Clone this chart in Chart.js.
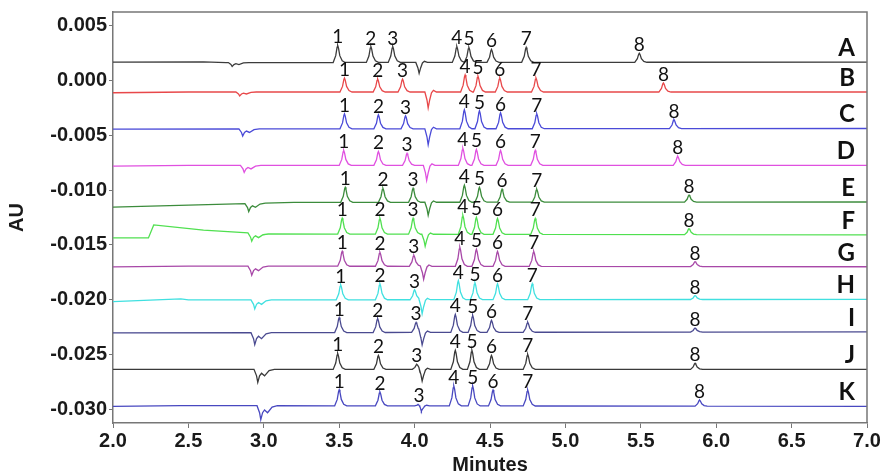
<!DOCTYPE html>
<html><head><meta charset="utf-8">
<script src="https://cdn.jsdelivr.net/npm/chart.js@4/dist/chart.umd.min.js"></script>
<style>html,body{margin:0;padding:0;background:#fff}</style>
</head><body>
<canvas id="c" width="882" height="475"></canvas>
<script>
// ---- data ----
const traceNames = ['A','B','C','D','E','F','G','H','I','J','K'];
const xTickValues = [2.0,2.5,3.0,3.5,4.0,4.5,5.0,5.5,6.0,6.5,7.0];
const yTickValues = [0.005,0.000,-0.005,-0.010,-0.015,-0.020,-0.025,-0.030];

// baseline (time, AU) knots per trace
const baselineKnots = [
  [[2.0,0.00164],[2.6,0.00166],[2.75,0.00160],[7.0,0.00164]],
  [[2.0,-0.00115],[2.5,-0.00108],[7.0,-0.00108]],
  [[2.0,-0.00445],[7.0,-0.00440]],
  [[2.0,-0.00782],[2.5,-0.00776],[7.0,-0.00775]],
  [[2.0,-0.01155],[3.2,-0.01112],[7.0,-0.01109]],
  [[2.0,-0.01436],[2.235,-0.01436],[2.27,-0.01318],[2.6,-0.01365],[3.0,-0.01400],[7.0,-0.01409]],
  [[2.0,-0.01700],[2.5,-0.01692],[7.0,-0.01698]],
  [[2.0,-0.02015],[2.45,-0.01990],[2.5,-0.02000],[7.0,-0.01995]],
  [[2.0,-0.02300],[7.0,-0.02290]],
  [[2.0,-0.02632],[7.0,-0.02632]],
  [[2.0,-0.02968],[2.45,-0.02962],[7.0,-0.02968]]
];

// retention times (min) of labelled peaks 1..8
const peakTimes = [
  [3.49,3.71,3.855,4.28,4.36,4.51,4.74,5.49],
  [3.535,3.755,3.92,4.335,4.42,4.565,4.805,5.65],
  [3.535,3.76,3.94,4.33,4.43,4.57,4.81,5.72],
  [3.53,3.76,3.95,4.32,4.41,4.57,4.80,5.745],
  [3.54,3.79,3.99,4.33,4.43,4.58,4.81,5.82],
  [3.52,3.77,3.99,4.32,4.41,4.55,4.80,5.82],
  [3.52,3.77,3.995,4.30,4.41,4.55,4.79,5.86],
  [3.51,3.77,4.00,4.29,4.40,4.55,4.78,5.86],
  [3.50,3.755,4.01,4.27,4.385,4.51,4.75,5.86],
  [3.49,3.76,4.015,4.27,4.38,4.51,4.75,5.86],
  [3.50,3.77,4.03,4.26,4.385,4.52,4.75,5.89]
];
// peak heights above baseline (AU)
const peakHeights = [
  [0.00155,0.00145,0.00145,0.00145,0.00136,0.00118,0.00136,0.00082],
  [0.00127,0.00118,0.00118,0.00155,0.00145,0.00127,0.00127,0.00082],
  [0.00136,0.00127,0.00118,0.00173,0.00164,0.00145,0.00136,0.00082],
  [0.00136,0.00127,0.00109,0.00155,0.00145,0.00136,0.00136,0.00082],
  [0.00136,0.00127,0.00127,0.00155,0.00136,0.00118,0.00118,0.00064],
  [0.00145,0.00145,0.00145,0.00173,0.00155,0.00145,0.00145,0.00055],
  [0.00136,0.00127,0.00100,0.00173,0.00155,0.00136,0.00136,0.00045],
  [0.00136,0.00145,0.00091,0.00173,0.00155,0.00145,0.00145,0.00036],
  [0.00136,0.00127,0.00091,0.00164,0.00155,0.00109,0.00091,0.00036],
  [0.00145,0.00127,0.00045,0.00173,0.00173,0.00127,0.00136,0.00055],
  [0.00145,0.00127,0.00018,0.00182,0.00182,0.00145,0.00145,0.00055]
];
// negative system peaks
const earlyDipTimes  = [2.79,2.84,2.86,2.87,2.90,2.92,2.92,2.94,2.94,2.96,2.98];
const earlyDipDepths = [0.00036,0.00036,0.00064,0.00064,0.00073,0.00073,0.00082,0.00082,0.00109,0.00118,0.00127];
const mainDipTimes   = [4.03,4.09,4.09,4.08,4.09,4.07,4.06,4.05,4.05,4.05,4.045];
const mainDipDepths  = [0.00100,0.00145,0.00145,0.00136,0.00118,0.00109,0.00118,0.00127,0.00118,0.00109,0.00055];

// ---- styles ----
const traceColors = ['#3c3c3c','#e8484a','#4a4ad8','#e050e0','#3c8c3c','#50e050','#a848a8','#40e0e0','#4a4a90','#3a3a3a','#4848c0'];
const peakShape  = [[-0.03,0],[-0.013,0.4],[-0.004,0.9],[0,1],[0.005,0.85],[0.014,0.4],[0.03,0.1],[0.05,0]];
const dipShape   = [[-0.022,0],[-0.008,-0.5],[0,-1],[0.01,-0.5],[0.022,-0.05],[0.035,0.1],[0.055,0]];
const earlyShape = [[-0.025,0],[-0.008,-0.5],[0,-1],[0.012,-0.5],[0.025,-0.3],[0.045,-0.5],[0.075,-0.1],[0.11,0]];

function lerpKnots(knots, t){
  if (t <= knots[0][0]) return knots[0][1];
  for (let k=1;k<knots.length;k++){
    if (t <= knots[k][0]){
      const [t0,v0]=knots[k-1],[t1,v1]=knots[k];
      return v0 + (v1-v0)*(t-t0)/(t1-t0);
    }
  }
  return knots[knots.length-1][1];
}
function shapeAt(shape, center, amp, t){
  const d = t-center;
  if (d <= shape[0][0] || d >= shape[shape.length-1][0]) return 0;
  for (let k=1;k<shape.length;k++){
    if (d <= shape[k][0]){
      const [a0,f0]=shape[k-1],[a1,f1]=shape[k];
      return amp*(f0 + (f1-f0)*(d-a0)/(a1-a0));
    }
  }
  return 0;
}
function baselineAt(i,t){ return lerpKnots(baselineKnots[i], t); }

function buildTrace(i){
  const feats = [];
  peakTimes[i].forEach((t,j)=>feats.push([peakShape,t,peakHeights[i][j]]));
  feats.push([earlyShape, earlyDipTimes[i], earlyDipDepths[i]]);
  feats.push([dipShape, mainDipTimes[i], mainDipDepths[i]]);
  const times = new Set(baselineKnots[i].map(k=>k[0]));
  feats.forEach(([s,c])=>s.forEach(p=>times.add(+(c+p[0]).toFixed(4))));
  const sorted = [...times].filter(t=>t>=2&&t<=7).sort((a,b)=>a-b);
  return sorted.map(t=>{
    let v = baselineAt(i,t);
    feats.forEach(([s,c,a])=>{ v += shapeAt(s,c,a,t); });
    return {x:t, y:v};
  });
}

const datasets = traceNames.map((n,i)=>({
  label:n, data:buildTrace(i), borderColor:traceColors[i], borderWidth:1.3,
  pointRadius:0, fill:false, tension:0
}));

const overlay = {
  id:'overlay',
  afterDatasetsDraw(chart){
    const {ctx, chartArea:a, scales:{x,y}} = chart;
    ctx.save();
    ctx.strokeStyle='#777'; ctx.lineWidth=1.5;
    ctx.beginPath(); ctx.moveTo(a.left,a.top); ctx.lineTo(a.right,a.top); ctx.lineTo(a.right,a.bottom); ctx.stroke();
    ctx.fillStyle='#111';
    traceNames.forEach((n,i)=>{
      ctx.font='19px Lato'; ctx.textAlign='center'; ctx.textBaseline='alphabetic';
      peakTimes[i].forEach((t,j)=>{
        const v = baselineAt(i,t)+peakHeights[i][j];
        ctx.fillText(String(j+1), x.getPixelForValue(t), y.getPixelForValue(v)-2);
      });
      ctx.font='bold 24px Lato'; ctx.textAlign='right';
      ctx.fillText(n, a.right-12, y.getPixelForValue(baselineAt(i,7.0))-6);
    });
    ctx.restore();
  }
};

const tickFont = {family:'Liberation Sans', size:20, weight:'bold'};
new Chart(document.getElementById('c'), {
  type:'line',
  data:{datasets},
  options:{
    responsive:false, animation:false, normalized:true,
    layout:{padding:{top:12,right:15,left:0,bottom:0}},
    plugins:{legend:{display:false}, tooltip:{enabled:false}},
    scales:{
      x:{type:'linear', min:2, max:7,
        afterBuildTicks:s=>{s.ticks=xTickValues.map(v=>({value:v}));},
        afterFit:s=>{s.height=52; s.paddingLeft=0; s.paddingRight=0;},
        ticks:{font:tickFont, color:'#1a1a1a', padding:1, maxRotation:0, autoSkip:false, callback:v=>Number(v).toFixed(1)},
        grid:{drawOnChartArea:false, drawTicks:true, tickLength:5, color:'#777'},
        border:{display:true, color:'#777', width:1.5},
        title:{display:true, text:'Minutes', color:'#1a1a1a', font:{family:'Liberation Sans', size:20, weight:'bold', lineHeight:1}, padding:0}
      },
      y:{type:'linear', min:-0.0312, max:0.0062,
        afterBuildTicks:s=>{s.ticks=yTickValues.map(v=>({value:v}));},
        afterFit:s=>{s.width=113; s.paddingTop=0; s.paddingBottom=0;},
        ticks:{font:tickFont, color:'#1a1a1a', padding:2, autoSkip:false, callback:v=>Number(v).toFixed(3)},
        grid:{drawOnChartArea:false, drawTicks:true, tickLength:4, color:'#777'},
        border:{display:true, color:'#777', width:1.5},
        title:{display:true, text:'AU', color:'#1a1a1a', font:{family:'Liberation Sans', size:20, weight:'bold'}, padding:{top:5,bottom:0}}
      }
    }
  },
  plugins:[overlay]
});
</script>
</body></html>
